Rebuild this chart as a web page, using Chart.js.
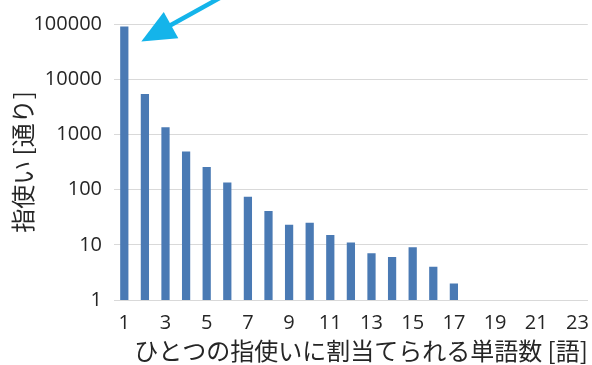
<!DOCTYPE html>
<html>
<head>
<meta charset="utf-8">
<script src="https://cdn.jsdelivr.net/npm/chart.js@4/dist/chart.umd.min.js"></script>
<style>
  html, body { margin: 0; padding: 0; background: #fff; }
  #wrap { width: 592px; height: 365px; }
</style>
</head>
<body>
<div id="wrap"><canvas id="c"></canvas></div>
<script>
// words per finger pattern -> number of patterns (log scale)
const wordCounts = ['1','2','3','4','5','6','7','8','9','10','11','12','13','14','15','16','17','18','19','20','21','22','23'];
const patternCounts = [90000, 5400, 1350, 490, 257, 134, 74, 41, 23, 25, 15, 11, 7, 6, 9, 4, 2];
const yTicks = [1, 10, 100, 1000, 10000, 100000];

const xTitle = 'ひとつの指使いに割当てられる単語数 [語]';
const yTitle = '指使い [通り]';

const tickFont = { family: 'Open Sans', size: 20 };
const titleFont = { family: 'Noto Sans CJK JP', size: 24 };

// blue arrow pointing at the first bar's top
const arrowPlugin = {
    id: 'arrow',
    afterDraw(chart) {
        const ctx = chart.ctx;
        const x = chart.scales.x.getPixelForValue(0);
        const y = chart.scales.y.getPixelForValue(patternCounts[0]);
        const tipX = x + 17, tipY = y + 15;
        const ang = Math.atan2(-40, 72);   // direction from tip back to tail
        const tailX = tipX + 90 * Math.cos(ang), tailY = tipY + 90 * Math.sin(ang);
        ctx.save();
        ctx.strokeStyle = '#14b4ea';
        ctx.fillStyle = '#14b4ea';
        ctx.lineWidth = 4.5;
        ctx.beginPath();
        ctx.moveTo(tipX + 20 * Math.cos(ang), tipY + 20 * Math.sin(ang));
        ctx.lineTo(tailX, tailY);
        ctx.stroke();
        const headLen = 34, headW = 15;
        const bx = tipX + headLen * Math.cos(ang), by = tipY + headLen * Math.sin(ang);
        const px = -Math.sin(ang), py = Math.cos(ang);
        ctx.beginPath();
        ctx.moveTo(tipX, tipY);
        ctx.lineTo(bx + headW * px, by + headW * py);
        ctx.lineTo(bx - headW * px, by - headW * py);
        ctx.closePath();
        ctx.fill();
        ctx.restore();
    }
};

new Chart(document.getElementById('c'), {
    type: 'bar',
    data: {
        labels: wordCounts,
        datasets: [{
            data: patternCounts,
            backgroundColor: '#4a7ab4',
            borderWidth: 0,
            barPercentage: 0.8,
            categoryPercentage: 0.5
        }]
    },
    options: {
        responsive: true,
        maintainAspectRatio: false,
        animation: false,
        layout: { padding: { top: 22, right: 4, left: 0, bottom: 0 } },
        plugins: { legend: { display: false }, tooltip: { enabled: false } },
        scales: {
            x: {
                grid: { display: false },
                border: { display: true, color: '#d9d9d9' },
                ticks: {
                    color: '#262626',
                    font: tickFont,
                    autoSkip: false,
                    maxRotation: 0,
                    padding: 3,
                    callback: (v, i) => i % 2 === 0 ? wordCounts[i] : ''
                },
                title: {
                    display: true,
                    text: xTitle,
                    align: 'end',
                    color: '#262626',
                    font: titleFont,
                    padding: { top: 0, bottom: 0 }
                },
                afterFit: s => { s.height = 65; }
            },
            y: {
                type: 'logarithmic',
                min: 1,
                max: 100000,
                afterBuildTicks: s => { s.ticks = yTicks.map(v => ({ value: v })); },
                grid: { color: '#d9d9d9', drawTicks: false },
                border: { display: false },
                ticks: {
                    color: '#262626',
                    font: tickFont,
                    padding: 12,
                    callback: v => String(v)
                },
                title: {
                    display: true,
                    text: yTitle,
                    color: '#262626',
                    font: titleFont,
                    padding: { top: 8, bottom: 0 }
                },
                afterFit: s => { s.width = 114; }
            }
        }
    },
    plugins: [arrowPlugin]
});
</script>
</body>
</html>
